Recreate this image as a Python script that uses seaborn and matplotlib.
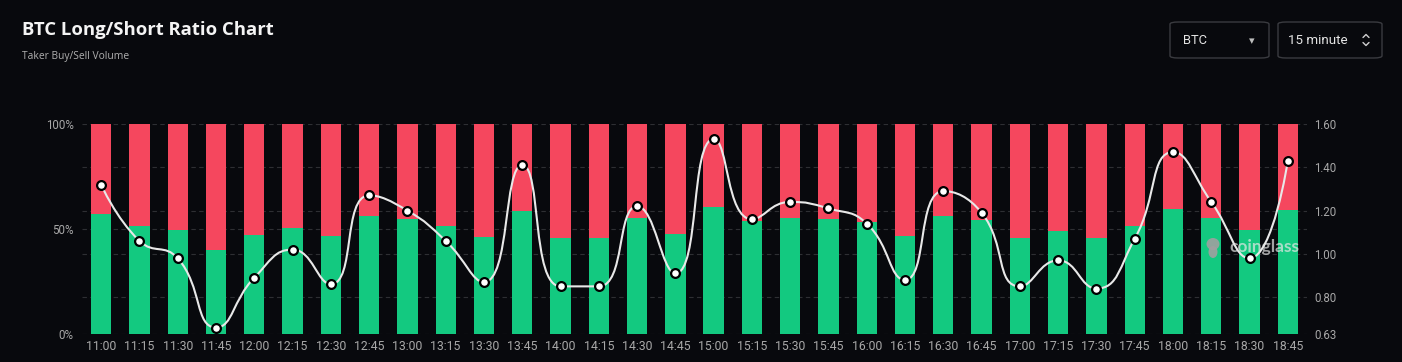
import numpy as np
import pandas as pd
import matplotlib.pyplot as plt
import seaborn as sns
from matplotlib.path import Path
from matplotlib.patches import PathPatch, FancyBboxPatch, Ellipse

# data
times = ['11:00', '11:15', '11:30', '11:45', '12:00', '12:15', '12:30', '12:45',
         '13:00', '13:15', '13:30', '13:45', '14:00', '14:15', '14:30', '14:45',
         '15:00', '15:15', '15:30', '15:45', '16:00', '16:15', '16:30', '16:45',
         '17:00', '17:15', '17:30', '17:45', '18:00', '18:15', '18:30', '18:45']
long_pct = [57.1, 51.6, 49.5, 39.8, 47.3, 50.5, 46.5, 56.0,
            54.6, 51.6, 46.3, 58.7, 45.7, 45.7, 55.1, 47.8,
            60.5, 53.8, 55.4, 54.9, 53.3, 46.7, 56.3, 54.3,
            45.9, 49.2, 45.7, 51.6, 59.7, 55.4, 49.5, 58.9]
total_pct = [100] * len(times)
ratio = [1.32, 1.06, 0.98, 0.66, 0.89, 1.02, 0.86, 1.27,
         1.20, 1.06, 0.87, 1.41, 0.85, 0.85, 1.22, 0.91,
         1.53, 1.16, 1.24, 1.21, 1.14, 0.88, 1.29, 1.19,
         0.85, 0.97, 0.84, 1.07, 1.47, 1.24, 0.98, 1.43]
pct_ticks = [0, 50, 100]
ratio_ticks = [0.63, 0.80, 1.00, 1.20, 1.40, 1.60]

BG = '#08090d'
GREEN = '#13c980'
RED = '#f5475e'
GRID = '#2e2f33'
TICK = '#a8a8a8'

sns.set_theme(style='dark', rc={'axes.facecolor': BG, 'figure.facecolor': BG})
plt.rcParams['font.family'] = ['Roboto', 'DejaVu Sans']

df = pd.DataFrame({'time': times, 'long': long_pct, 'total': total_pct})

W, H = 1402, 362
fig = plt.figure(figsize=(W / 100, H / 100), dpi=100)
ax = fig.add_axes([82 / W, 1 - 334 / H, (1307 - 82) / W, 210 / H])

# short side drawn as full bar, long side on top of it
sns.barplot(data=df, x='time', y='total', color=RED, saturation=1, width=0.53, ax=ax, zorder=2)
sns.barplot(data=df, x='time', y='long', color=GREEN, saturation=1, width=0.53, ax=ax, zorder=3)
for p in ax.patches:
    p.set_linewidth(0)

n = len(times)
ax.set_xlim(-0.5, n - 0.5)
ax.set_ylim(0, 100)
ax.set_xlabel('')
ax.set_ylabel('')
ax.set_yticks(pct_ticks)
ax.set_yticklabels([f'{t}%' for t in pct_ticks])
ax.tick_params(axis='y', colors=TICK, labelsize=8.3, length=0, pad=6)
ax.tick_params(axis='x', colors=TICK, labelsize=8.8, length=0, pad=4)
for s in ax.spines.values():
    s.set_visible(False)

ax2 = ax.twinx()
lo, hi = ratio_ticks[0], ratio_ticks[-1]
ax2.set_ylim(lo, hi)
ax2.set_yticks(ratio_ticks)
ax2.set_yticklabels([f'{t:.2f}' for t in ratio_ticks])
ax2.tick_params(axis='y', colors=TICK, labelsize=8.3, length=0, pad=5)
for s in ax2.spines.values():
    s.set_visible(False)
ax2.grid(False)
ax2.set_xlim(-0.5, n - 0.5)

# dashed grid, kept behind the bars
grid_pos = sorted(set([50] + [(t - lo) / (hi - lo) * 100 for t in ratio_ticks]))
for g in grid_pos:
    ax.axhline(g, color=GRID, lw=0.8, ls=(0, (4, 3)), zorder=0)

# smooth line (echarts style bezier through the points)
xs = np.arange(n)
pts = ax2.transData.transform(np.column_stack([xs, ratio]))
verts = [tuple(pts[0])]
codes = [Path.MOVETO]
smooth = 0.5
cp0 = pts[0].copy()
for k in range(1, n):
    x, y = pts[k]
    px, py = pts[k - 1]
    if k == n - 1:
        cp1 = np.array([x, y])
        ncp0 = np.array([x, y])
    else:
        nx, ny = pts[k + 1]
        vx, vy = nx - px, ny - py
        lp = np.hypot(x - px, y - py)
        ln = np.hypot(nx - x, ny - y)
        r = ln / (ln + lp)
        ncx = x + vx * smooth * r
        ncy = y + vy * smooth * r
        ncx = max(min(ncx, max(nx, x)), min(nx, x))
        ncy = max(min(ncy, max(ny, y)), min(ny, y))
        vx, vy = ncx - x, ncy - y
        c1x = x - vx * lp / ln
        c1y = y - vy * lp / ln
        c1x = max(min(c1x, max(px, x)), min(px, x))
        c1y = max(min(c1y, max(py, y)), min(py, y))
        vx, vy = x - c1x, y - c1y
        ncp0 = np.array([x + vx * ln / lp, y + vy * ln / lp])
        cp1 = np.array([c1x, c1y])
    verts += [tuple(cp0), tuple(cp1), (x, y)]
    codes += [Path.CURVE4] * 3
    cp0 = ncp0
inv = ax2.transData.inverted()
path = Path(inv.transform(np.array(verts)), codes)
ax2.add_patch(PathPatch(path, facecolor='none', edgecolor='#e8e8e8', lw=1.5, zorder=4))
sns.scatterplot(x=xs, y=ratio, ax=ax2, color='white', edgecolor='black', linewidth=1.6,
                s=40, zorder=5, legend=False)
ax2.set_xlim(-0.5, n - 0.5)
ax2.set_ylim(lo, hi)

# watermark
fig.patches.append(Ellipse((1213 / W, 1 - 244 / H), 13 / W, 12 / H, transform=fig.transFigure,
                           facecolor='#a0a0a0', edgecolor='none', alpha=0.9))
fig.patches.append(Ellipse((1213 / W, 1 - 252 / H), 9 / W, 12 / H, transform=fig.transFigure,
                           facecolor='#a0a0a0', edgecolor='none', alpha=0.9))
fig.text(1229 / W, 1 - 247 / H, 'coinglass', color='#e6e6e6', fontsize=12.5, fontweight='bold',
         ha='left', va='center', alpha=0.7, family=['Lato', 'DejaVu Sans'])

# header
fig.text(22 / W, 1 - 30 / H, 'BTC Long/Short Ratio Chart', color='#f4f4f4', fontsize=13.3,
         fontweight='bold', ha='left', va='center', family=['Open Sans', 'DejaVu Sans'])
fig.text(22 / W, 1 - 57 / H, 'Taker Buy/Sell Volume', color='#b0b0b0', fontsize=7.4,
         ha='left', va='center', family=['Open Sans', 'DejaVu Sans'])

# selector boxes
for x0, x1 in [(1170, 1269), (1278, 1382)]:
    fig.patches.append(FancyBboxPatch((x0 / W, 1 - 58 / H), (x1 - x0) / W, 36 / H,
                                      boxstyle='round,pad=0,rounding_size=0.006',
                                      transform=fig.transFigure, facecolor=BG,
                                      edgecolor='#3a3b40', lw=1))
fig.text(1183 / W, 1 - 40 / H, 'BTC', color='#e4e4e4', fontsize=9.3, ha='left', va='center')
fig.text(1252 / W, 1 - 41 / H, '\u25be', color='#bdbdbd', fontsize=8, ha='center', va='center',
         family=['DejaVu Sans'])
fig.text(1288 / W, 1 - 40 / H, '15 minute', color='#e4e4e4', fontsize=9.6, ha='left', va='center')
fig.add_artist(plt.Line2D([1363 / W, 1366 / W, 1369 / W], [1 - 37.5 / H, 1 - 34.5 / H, 1 - 37.5 / H],
                          color='#cfcfcf', lw=1, transform=fig.transFigure))
fig.add_artist(plt.Line2D([1363 / W, 1366 / W, 1369 / W], [1 - 42.5 / H, 1 - 45.5 / H, 1 - 42.5 / H],
                          color='#cfcfcf', lw=1, transform=fig.transFigure))

fig.savefig('out.png', dpi=100, facecolor=BG)
